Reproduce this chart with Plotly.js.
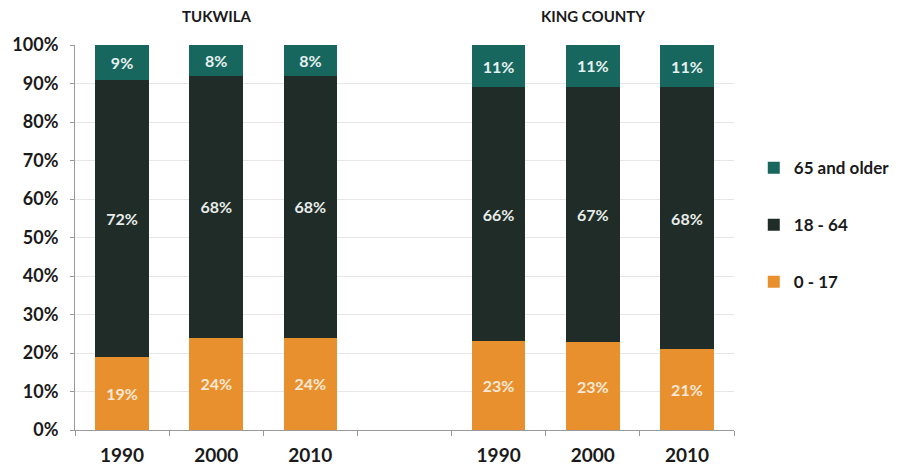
<!DOCTYPE html>
<html>
<head>
<meta charset="utf-8">
<script src="https://cdn.plot.ly/plotly-3.0.1.min.js"></script>
<style>html,body{margin:0;padding:0;background:#fff;}#chart{width:898px;height:468px;}</style>
</head>
<body>
<div id="chart"></div>
<script>
// Category slots (one empty slot separates the two places)
const categories = ['T1990', 'T2000', 'T2010', 'gap', 'K1990', 'K2000', 'K2010'];
const barCategories = ['T1990', 'T2000', 'T2010', 'K1990', 'K2000', 'K2010'];
const tickLabels = ['1990', '2000', '2010', '', '1990', '2000', '2010'];
const groupTitles = ['TUKWILA', 'KING COUNTY'];
const groupTitleAt = ['T2000', 'K2000'];

// Percent of population by age group
const age0to17 = [19, 24, 24, 23, 23, 21];
const age18to64 = [72, 68, 68, 66, 67, 68];
const age65plus = [9, 8, 8, 11, 11, 11];

const seriesNames = ['0 - 17', '18 - 64', '65 and older'];
const seriesColors = ['#e88f2e', '#1f2c27', '#17675f'];
const labelColors = ['#fbe9d6', '#e8ece9', '#e6f1ef'];
const seriesValues = [age0to17, age18to64, age65plus];
const legendRanks = [3, 2, 1];

const FONT = 'Lato, "Open Sans", "DejaVu Sans", sans-serif';

const traces = seriesValues.map((vals, i) => ({
  type: 'bar',
  name: seriesNames[i],
  legendgroup: 'g' + i,
  legendrank: legendRanks[i],
  x: barCategories,
  y: vals,
  text: vals.map(v => v + '%'),
  textposition: 'inside',
  insidetextanchor: 'middle',
  textangle: 0,
  constraintext: 'none',
  textfont: {family: FONT, size: 16, color: labelColors[i], weight: 'bold'},
  marker: {color: seriesColors[i], line: {width: 0}},
  width: 0.57,
  hoverinfo: 'skip'
}));

const annotations = groupTitles.map((t, i) => ({
  text: '<b>' + t + '</b>',
  x: groupTitleAt[i], xref: 'x',
  y: 1.075, yref: 'paper',
  yanchor: 'middle', xanchor: 'center',
  showarrow: false,
  font: {family: FONT, size: 15, color: '#1a1a1a'}
}));

const layout = {
  width: 898, height: 468,
  margin: {l: 75, r: 164, t: 45, b: 38, autoexpand: false},
  paper_bgcolor: '#ffffff',
  plot_bgcolor: '#ffffff',
  barmode: 'stack',
  barnorm: 'percent',
  showlegend: true,
  font: {family: FONT, color: '#1a1a1a'},
  legend: {
    x: 1.03, xanchor: 'left',
    y: 0.727, yanchor: 'top',
    traceorder: 'grouped',
    tracegroupgap: 32,
    font: {family: FONT, size: 17, color: '#1a1a1a', weight: 'bold'},
    itemwidth: 30,
    bgcolor: 'rgba(0,0,0,0)'
  },
  xaxis: {
    type: 'category',
    categoryorder: 'array',
    categoryarray: categories,
    tickmode: 'array',
    tickvals: categories,
    ticktext: tickLabels,
    tickson: 'boundaries',
    ticks: 'outside',
    ticklen: 5,
    tickcolor: '#9a9a9a',
    ticklabelstandoff: 8,
    showline: true,
    linecolor: '#9a9a9a',
    linewidth: 1,
    showgrid: false,
    zeroline: false,
    tickfont: {family: FONT, size: 19, color: '#1a1a1a', weight: 'bold'},
    range: [-0.5, 6.5],
    fixedrange: true
  },
  yaxis: {
    range: [0, 100],
    dtick: 10,
    ticksuffix: '%',
    ticks: 'outside',
    ticklen: 4,
    tickcolor: '#9a9a9a',
    ticklabelstandoff: 8,
    showline: true,
    linecolor: '#9a9a9a',
    linewidth: 1,
    showgrid: true,
    gridcolor: '#e6e6e6',
    gridwidth: 1,
    zeroline: false,
    tickfont: {family: FONT, size: 18, color: '#1a1a1a', weight: 'bold'},
    fixedrange: true
  },
  annotations: annotations
};

Plotly.newPlot('chart', traces, layout, {displayModeBar: false, staticPlot: true});
</script>
</body>
</html>
